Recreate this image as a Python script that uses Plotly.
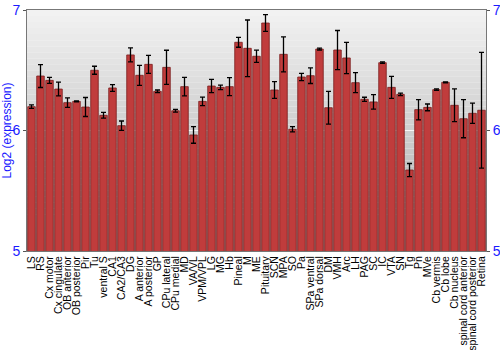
import plotly.graph_objects as go

categories = ["LS", "RS", "Cx motor", "Cx cingulate", "OB anterior", "OB posterior", "Pir", "Tu",
              "ventral S", "CA1", "CA2/CA3", "DG", "A anterior", "A posterior", "GP", "CPu lateral",
              "CPu medial", "MD", "VA/VL", "VPM/VPL", "LG", "MG", "Hb", "Pineal", "M", "ME",
              "Pituitary", "SCN", "MPA", "SO", "Pa", "SPa ventral", "SPa dorsal", "DM", "VMH", "Arc",
              "LH", "PAG", "SC", "IC", "VTA", "SN", "Tg", "Pn", "MVe", "Cb vermis", "Cb lobe",
              "Cb nucleus", "spinal cord anterior", "spinal cord posterior", "Retina"]

values = [6.198, 6.452, 6.416, 6.344, 6.231, 6.242, 6.195, 6.500,
          6.126, 6.353, 6.040, 6.627, 6.458, 6.549, 6.325, 6.524,
          6.164, 6.364, 5.963, 6.242, 6.369, 6.358, 6.364, 6.732, 6.682, 6.616,
          6.892, 6.336, 6.632, 6.010, 6.444, 6.455, 6.676, 6.189, 6.668, 6.602,
          6.397, 6.259, 6.237, 6.563, 6.358, 6.300, 5.672, 6.173, 6.192, 6.339, 6.400,
          6.209, 6.098, 6.143, 6.168]

errors = [0.015, 0.095, 0.025, 0.057, 0.039, 0.004, 0.079, 0.033,
          0.024, 0.028, 0.039, 0.058, 0.083, 0.075, 0.011, 0.142,
          0.011, 0.077, 0.069, 0.035, 0.055, 0.019, 0.075, 0.041, 0.235, 0.051,
          0.069, 0.069, 0.145, 0.022, 0.030, 0.065, 0.008, 0.136, 0.162, 0.130,
          0.083, 0.017, 0.060, 0.006, 0.091, 0.010, 0.054, 0.084, 0.028, 0.006, 0.004,
          0.136, 0.158, 0.084, 0.480]

y_ticks = [5, 6, 7]
y_title = "Log2 (expression)"

fig = go.Figure()
fig.add_trace(go.Bar(
    x=categories, y=values,
    marker=dict(color="#c03c3c", line=dict(color="#7a1e1e", width=0.8)),
    width=0.84,
    error_y=dict(type="data", array=errors, color="black", thickness=1.3, width=2.5),
    showlegend=False,
))
fig.add_trace(go.Scatter(x=categories, y=values, yaxis="y2", mode="lines",
                         line=dict(width=0), opacity=0, showlegend=False, hoverinfo="skip"))

# background gradient
shapes = []
n = 40
for i in range(n):
    t = i / n
    c = int(242 - 72 * t)
    shapes.append(dict(type="rect", xref="paper", yref="paper", x0=0, x1=1,
                       y0=1 - (i + 1) / n, y1=1 - i / n, fillcolor=f"rgb({c},{c},{c})",
                       line=dict(width=0), layer="below"))

fig.update_layout(
    template="none",
    width=500, height=350,
    margin=dict(l=27, r=14, t=10, b=99),
    paper_bgcolor="white", plot_bgcolor="rgba(0,0,0,0)",
    shapes=shapes, bargap=0.16,
    font=dict(family="Liberation Sans, Arial, sans-serif"),
    xaxis=dict(tickangle=-90, tickmode="array", tickvals=categories, ticktext=categories,
               range=[-0.5, len(categories) - 0.5],
               tickfont=dict(size=10.5, color="black"), showgrid=False,
               showline=True, linecolor="#777", mirror=True, ticks="", automargin=False),
    yaxis=dict(range=[5, 7], tickvals=y_ticks, tickfont=dict(size=14, color="#1a1aff"),
               title=dict(text=y_title, font=dict(size=12, color="#1a1aff"), standoff=2),
               showgrid=True, gridcolor="rgba(255,255,255,0.8)", gridwidth=1.2,
               zeroline=False, ticks="outside", ticklen=3, tickcolor="#555",
               showline=True, linecolor="#777", automargin=False),
    yaxis2=dict(range=[5, 7], tickvals=y_ticks, overlaying="y", side="right",
                tickfont=dict(size=14, color="#1a1aff"), showgrid=False, zeroline=False,
                ticks="outside", ticklen=3, tickcolor="#555", showline=True, linecolor="#777",
                automargin=False),
)

fig.write_html("out.html")
